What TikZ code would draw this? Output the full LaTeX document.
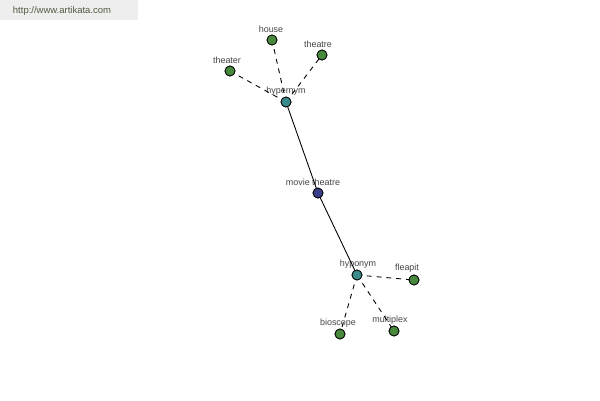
\documentclass[tikz,border=0pt]{standalone}
\usepackage{fontspec}
\setmainfont{Liberation Sans}
\usepackage{tikz}
\usetikzlibrary{positioning}
\definecolor{leafgreen}{RGB}{72,138,60}
\definecolor{hubteal}{RGB}{58,140,140}
\definecolor{rootblue}{RGB}{60,64,140}
\definecolor{urlgray}{RGB}{238,238,238}
\definecolor{urltext}{RGB}{80,92,64}
\definecolor{lblgray}{RGB}{70,70,70}
\tikzset{
  dot/.style={circle,draw=black,line width=0.45pt,minimum size=0.2cm,inner sep=0pt},
  leaf/.style={dot,fill=leafgreen},
  hub/.style={dot,fill=hubteal},
  root/.style={dot,fill=rootblue},
  lbl/.style={font=\fontsize{5.1}{6}\selectfont,text=lblgray,inner sep=0.5pt},
  rel/.style={line width=0.5pt,black,dash pattern=on 2.8pt off 2.8pt},
  syn/.style={line width=0.5pt,black}
}

\begin{document}
\begin{tikzpicture}[x=0.02cm,y=-0.02cm]
    \useasboundingbox (0,0) rectangle (600,400);
    \fill[urlgray] (0,0) rectangle (138,20);
    \node[font=\fontsize{5.4}{6}\selectfont,text=urltext,inner sep=0pt] (url) at (62,11) {http://www.artikata.com};

    % word node and its two relation hubs
    \node[root] (movie) at (318,193) {};
    \node[hub] (hyper) at (286,102) {};
    \node[hub] (hypo) at (357,275) {};

    % related words
    \node[leaf] (house) at (272,40) {};
    \node[leaf] (theatre) at (322,55) {};
    \node[leaf] (theater) at (230,71) {};
    \node[leaf] (fleapit) at (414,280) {};
    \node[leaf] (bioscope) at (340,334) {};
    \node[leaf] (multiplex) at (394,331) {};

    % labels
    \node[lbl] (lmovie) at (313,182) {movie theatre};
    \node[lbl] (lhyper) at (286,91) {hypernym};
    \node[lbl] (lhypo) at (358,264) {hyponym};
    \node[lbl] (lhouse) at (271,29) {house};
    \node[lbl] (ltheatre) at (318,44) {theatre};
    \node[lbl] (ltheater) at (227,60) {theater};
    \node[lbl] (lfleapit) at (407,268) {fleapit};
    \node[lbl] (lbioscope) at (338,323) {bioscope};
    \node[lbl] (lmultiplex) at (390,320) {multiplex};

    \draw[syn] (hyper.center) -- (movie.center) -- (hypo.center);
    \draw[rel] (hyper.center) -- (house.center);
    \draw[rel] (hyper.center) -- (theatre.center);
    \draw[rel] (hyper.center) -- (theater.center);
    \draw[rel] (hypo.center) -- (fleapit.center);
    \draw[rel] (hypo.center) -- (bioscope.center);
    \draw[rel] (hypo.center) -- (multiplex.center);

    % redraw dots on top of the lines
    \foreach \n/\s in {movie/root,hyper/hub,hypo/hub,house/leaf,theatre/leaf,theater/leaf,fleapit/leaf,bioscope/leaf,multiplex/leaf}
      \node[\s] at (\n) {};
\end{tikzpicture}
\end{document}
